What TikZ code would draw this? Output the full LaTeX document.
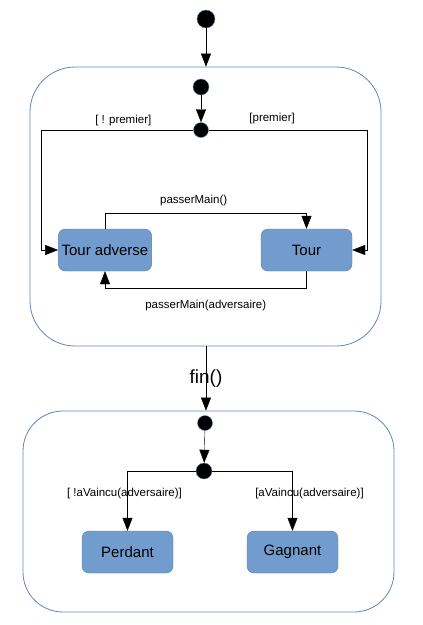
\documentclass[tikz,border=0pt]{standalone}
\usepackage{fontspec}
\setmainfont{Liberation Sans}
\usetikzlibrary{arrows.meta,positioning}
\definecolor{etatfill}{RGB}{114,156,206}
\definecolor{etatdraw}{RGB}{86,122,178}
\definecolor{cadre}{RGB}{100,132,186}

\begin{document}
\begin{tikzpicture}[x=1pt, y=-1pt, >={Triangle[length=13pt,width=10pt]},
  etat/.style={rectangle, rounded corners=7pt, draw=etatdraw, fill=etatfill,
    minimum width=91pt, minimum height=42pt, font=\fontsize{15}{17}\selectfont},
  cadreetat/.style={draw=cadre, line width=0.8pt, rounded corners=#1},
  point/.style={circle, draw=cadre, fill=black, inner sep=0pt, minimum size=#1},
  garde/.style={font=\fontsize{11.5}{13}\selectfont}]
  \useasboundingbox (0,0) rectangle (423,625);

  % etats composites
  \node[cadreetat=45pt, minimum width=351pt, minimum height=279pt] (partie) at (205.5,206.5) {};
  \node[cadreetat=40pt, minimum width=371pt, minimum height=201pt] (fin) at (208.5,511.5) {};

  \node[point=18pt] (init) at (206,19) {};
  \node[point=16pt] (initP) at (201,87) {};
  \node[point=15pt] (choixP) at (201,130) {};
  \node[etat] (adv) at (105,250) {Tour adverse};
  \node[etat] (tour) at (306.5,250) {Tour};

  \node[point=15pt] (initF) at (205,423) {};
  \node[point=16pt] (choixF) at (204,471) {};
  \node[etat] (perd) at (127.5,552) {Perdant};
  \node[etat] (gagne) at (292.5,552) {Gagnant};

  \draw[->] (init) -- (partie.north -| init);
  \draw[->] (initP) -- (choixP);
  \draw[->] (choixP) -| ([xshift=-17pt]adv.west) node[garde, pos=0.23, above=1pt] {[ ! premier]}
    -- (adv.west);
  \draw[->] (choixP) -| ([xshift=15pt]tour.east) node[garde, pos=0.2, above=3pt] {[premier]}
    -- (tour.east);
  \draw[->] (adv.north) -- ++(0,-16) -| (tour.north) node[garde, pos=0.22, above=3pt] {passerMain()};
  \draw[->] (tour.south) -- ++(0,17) -| (adv.south) node[garde, pos=0.25, below=8pt] {passerMain(adversaire)};

  \draw[->] (partie.south -| init) -- (fin.north -| init) node[midway, font=\fontsize{19}{22}\selectfont] {fin()};

  \draw[->] (initF) -- (choixF);
  \draw[->] (choixF) -| (perd.north) node[garde, pos=0.69, xshift=-3pt] {[ !aVaincu(adversaire)]};
  \draw[->] (choixF) -| (gagne.north) node[garde, pos=0.69, xshift=17pt] {[aVaincu(adversaire)]};
\end{tikzpicture}
\end{document}
